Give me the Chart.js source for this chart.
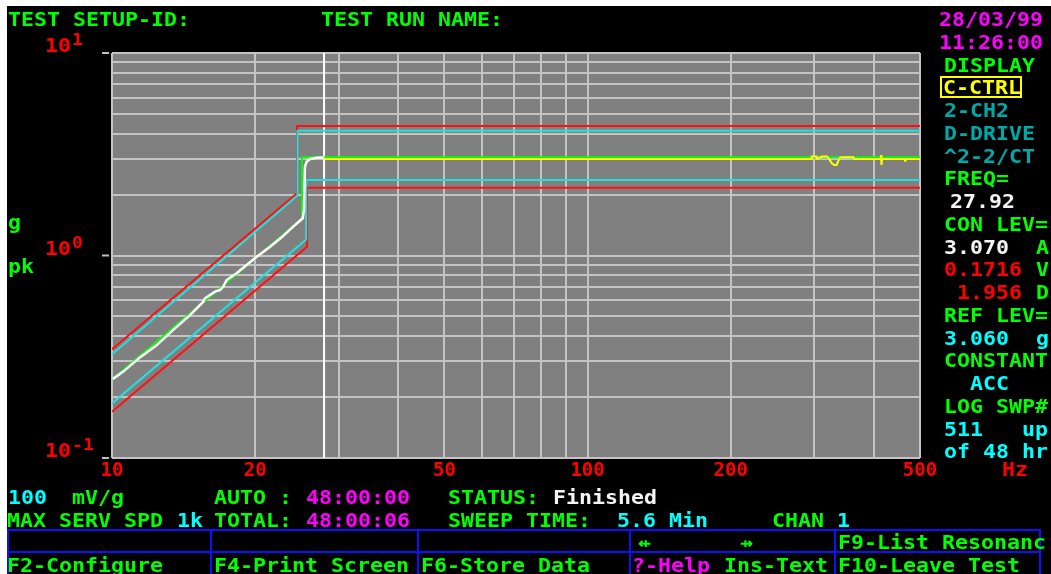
<!DOCTYPE html>
<html>
<head>
<meta charset="utf-8">
<script src="https://cdn.jsdelivr.net/npm/chart.js@4.4.0/dist/chart.umd.min.js"></script>
<style>
  body { margin: 0; background: #fff; }
  #wrap { position: relative; width: 1051px; height: 574px; overflow: hidden; }
  #c { position: absolute; left: 0; top: 0; }
  .t { position: absolute; font: bold 19px/19px 'DejaVu Sans Mono', monospace; white-space: pre;
       transform: scaleX(1.136); transform-origin: 0 0; }
  #box { position: absolute; left: 940px; top: 76px; width: 78px; height: 18px; border: 2px solid #ffff00; }
</style>
</head>
<body>
<div id="wrap">
  <canvas id="c" width="1051" height="574"></canvas>
  <div id="box"></div>
</div>
<script>
// axis grid and labels
const X_GRID = [10, 20, 30, 40, 50, 60, 70, 80, 90, 100, 200, 300, 400, 500];
const X_LABELS = [10, 20, 50, 100, 200, 500];
const Y_GRID = [0.1, 0.2, 0.3, 0.4, 0.5, 0.6, 0.7, 0.8, 0.9, 1, 2, 3, 4, 5, 6, 7, 8, 9, 10];
const Y_DECADES = [10, 1, 0.1];
const Y_EXPONENTS = ["1", "0", "-1"];

// abort (red) and alarm (cyan) limits
const ABORT_HI_HZ = [10, 24.5, 24.5, 500];
const ABORT_HI_G  = [0.344, 2.03, 4.36, 4.36];
const ALARM_HI_HZ = [10, 24.55, 24.55, 500];
const ALARM_HI_G  = [0.325, 1.98, 4.13, 4.13];
const ALARM_LO_HZ = [10, 25.6, 25.6, 500];
const ALARM_LO_G  = [0.186, 1.20, 2.36, 2.36];
const ABORT_LO_HZ = [10, 25.7, 25.7, 500];
const ABORT_LO_G  = [0.169, 1.105, 2.16, 2.16];

// reference profile (green)
const REF_HZ = [10, 25.1, 25.1, 500];
const REF_G  = [0.244, 1.52, 3.06, 3.06];

// control trace, current sweep (white)
const CTRL_HZ = [10.03, 10.56, 11.45, 12.42, 13.45, 14.59, 15.56, 15.69, 16.47, 16.87, 17.14, 17.42,
                 18.28, 19.19, 20.15, 21.5, 22.9, 23.3, 24.05, 25.18, 25.33, 25.45, 25.66, 26.08, 26.93, 27.92];
const CTRL_G  = [0.245, 0.267, 0.314, 0.361, 0.429, 0.508, 0.591, 0.615, 0.663, 0.675, 0.702, 0.757,
                 0.817, 0.898, 0.986, 1.105, 1.248, 1.296, 1.388, 1.527, 1.678, 2.745, 2.904, 2.996, 3.04, 3.05];

// control trace, previous sweep (yellow)
const PREV_HZ = [27.92, 295, 296, 303, 304, 311, 319, 322, 326, 330, 334, 337, 340, 362, 364,
                 413, 414, 415, 416, 464, 465, 466, 500];
const PREV_G  = [3.00, 3.00, 3.08, 3.08, 3.00, 3.08, 3.08, 3.00, 2.86, 2.80, 2.80, 2.95, 3.06, 3.06, 3.00,
                 3.00, 3.13, 2.80, 3.00, 3.00, 2.94, 3.00, 3.00];

const CURSOR_HZ = 27.92;

const GRN = "#00ff00", MAG = "#ff00ff", RED = "#ff0000", CYN = "#00ffff",
      TEAL = "#00a8a8", WHT = "#f4f4f4", YEL = "#ffff00";

const pts = (xs, ys) => xs.map((x, i) => ({ x: x, y: ys[i] }));
const rowY = k => 26 + 22.75 * k;

// screen texts: text, x, baseline, colour
const TEXTS = [
    ["TEST SETUP-ID:", 8, rowY(0), GRN],
    ["TEST RUN NAME:", 321, rowY(0), GRN],
    ["28/03/99", 939, rowY(0), MAG],
    ["11:26:00", 939, rowY(1), MAG],
    ["DISPLAY", 944, rowY(2), GRN],
    ["C-CTRL", 943, rowY(3), YEL],
    ["2-CH2", 944, rowY(4), TEAL],
    ["D-DRIVE", 944, rowY(5), TEAL],
    ["^2-2/CT", 944, rowY(6), TEAL],
    ["FREQ=", 944, rowY(7), GRN],
    ["27.92", 950, rowY(8), WHT],
    ["CON LEV=", 944, rowY(9), GRN],
    ["3.070", 944, rowY(10), WHT],
    ["A", 1036, rowY(10), GRN],
    ["0.1716", 944, rowY(11), RED],
    ["V", 1036, rowY(11), GRN],
    ["1.956", 957, rowY(12), RED],
    ["D", 1036, rowY(12), GRN],
    ["REF LEV=", 944, rowY(13), GRN],
    ["3.060", 944, rowY(14), CYN],
    ["g", 1036, rowY(14), CYN],
    ["CONSTANT", 944, rowY(15), GRN],
    ["ACC", 970, rowY(16), CYN],
    ["LOG SWP#", 944, rowY(17), GRN],
    ["511", 944, rowY(18), CYN],
    ["up", 1022, rowY(18), CYN],
    ["of 48 hr", 944, rowY(19), CYN],
    ["g", 8, 229, GRN],
    ["pk", 8, 273, GRN],
    ["Hz", 1002, 476, RED],
    ["100", 8, rowY(21), CYN],
    ["mV/g", 72, rowY(21), GRN],
    ["AUTO :", 214, rowY(21), GRN],
    ["48:00:00", 306, rowY(21), MAG],
    ["STATUS:", 448, rowY(21), GRN],
    ["Finished", 553, rowY(21), WHT],
    ["MAX SERV SPD", 7, rowY(22), GRN],
    ["1k", 177, rowY(22), CYN],
    ["TOTAL:", 214, rowY(22), GRN],
    ["48:00:06", 306, rowY(22), MAG],
    ["SWEEP TIME:", 448, rowY(22), GRN],
    ["5.6 Min", 617, rowY(22), CYN],
    ["CHAN", 772, rowY(22), GRN],
    ["1", 837, rowY(22), CYN],
    ["\u21F7", 638, rowY(23), GRN],
    ["\u21F8", 740, rowY(23), GRN],
    ["F9-List Resonanc", 838, rowY(23), GRN],
    ["F2-Configure", 7, rowY(24), GRN],
    ["F4-Print Screen", 214, rowY(24), GRN],
    ["F6-Store Data", 421, rowY(24), GRN],
    ["?-Help", 632, rowY(24), MAG],
    ["Ins-Text", 724, rowY(24), GRN],
    ["F10-Leave Test", 838, rowY(24), GRN]
];

const wrap = document.getElementById("wrap");
TEXTS.forEach(([s, x, y, col]) => {
    const el = document.createElement("div");
    el.className = "t";
    el.textContent = s;
    el.style.left = x + "px";
    el.style.top = (y - 16) + "px";
    el.style.color = col;
    wrap.appendChild(el);
});

const screenPlugin = {
    id: "screen",
    beforeDraw(chart) {
        const { ctx, chartArea: a } = chart;
        ctx.save();
        ctx.fillStyle = "#fff";
        ctx.fillRect(0, 0, chart.width, chart.height);
        ctx.fillStyle = "#000";
        ctx.fillRect(7, 6, chart.width - 7, chart.height - 6);
        ctx.fillStyle = "#808080";
        ctx.fillRect(a.left, a.top, a.right - a.left, a.bottom - a.top);
        ctx.restore();
    },
    afterDraw(chart) {
        const ctx = chart.ctx;
        const ys = chart.scales.y;
        ctx.save();
        // decade labels and tick dashes
        Y_DECADES.forEach((v, i) => {
            const py = ys.getPixelForValue(v);
            ctx.strokeStyle = "#c0c0c0";
            ctx.lineWidth = 2;
            ctx.beginPath();
            ctx.moveTo(102, py);
            ctx.lineTo(109, py);
            ctx.stroke();
            ctx.fillStyle = RED;
            ctx.save();
            ctx.translate(45, py - 1);
            ctx.scale(1.136, 1);
            ctx.font = "bold 19px 'DejaVu Sans Mono'";
            ctx.fillText("10", 0, 0);
            ctx.restore();
            ctx.save();
            ctx.translate(72, py - 8);
            ctx.scale(1.136, 1);
            ctx.font = "bold 16px 'DejaVu Sans Mono'";
            ctx.fillText(Y_EXPONENTS[i], 0, 0);
            ctx.restore();
        });
        // function key frame
        ctx.strokeStyle = "#1010ff";
        ctx.lineWidth = 2;
        ctx.beginPath();
        [530, 552].forEach(y => { ctx.moveTo(7, y); ctx.lineTo(1041, y); });
        [8, 211, 418, 630, 835, 1040].forEach(x => { ctx.moveTo(x, 530); ctx.lineTo(x, 574); });
        ctx.stroke();
        ctx.restore();
    }
};

const line = (label, xs, ys, color, width, order) => ({
    label: label, data: pts(xs, ys), borderColor: color, borderWidth: width,
    pointRadius: 0, fill: false, tension: 0, order: order
});

new Chart(document.getElementById("c").getContext("2d"), {
    type: "line",
    data: {
        datasets: [
            line("Control", CTRL_HZ, CTRL_G, "#ffffff", 2.5, 1),
            line("Previous sweep", PREV_HZ, PREV_G, "#ffff00", 2, 2),
            line("Reference", REF_HZ, REF_G, "#00ff00", 2, 3),
            line("Alarm high", ALARM_HI_HZ, ALARM_HI_G, "#20e0e0", 2, 4),
            line("Alarm low", ALARM_LO_HZ, ALARM_LO_G, "#20e0e0", 2, 4),
            line("Abort high", ABORT_HI_HZ, ABORT_HI_G, "#ff1010", 2, 5),
            line("Abort low", ABORT_LO_HZ, ABORT_LO_G, "#ff1010", 2, 5),
            line("Cursor", [CURSOR_HZ, CURSOR_HZ], [0.1, 10], "#ffffff", 2, 6)
        ]
    },
    options: {
        responsive: false,
        animation: false,
        devicePixelRatio: 1,
        layout: { padding: { left: 112, right: 131, top: 53, bottom: 0 } },
        plugins: { legend: { display: false }, tooltip: { enabled: false } },
        scales: {
            x: {
                type: "logarithmic",
                min: 10, max: 500,
                afterBuildTicks: s => { s.ticks = X_GRID.map(v => ({ value: v })); },
                afterFit: s => { s.height = 116; },
                grid: { color: "#c4c4c4", lineWidth: 2, drawTicks: false },
                border: { display: false },
                ticks: {
                    autoSkip: false, maxRotation: 0, padding: 4, color: RED,
                    font: { family: "'DejaVu Sans Mono'", weight: "bold", size: 19, lineHeight: 1 },
                    callback: v => X_LABELS.includes(v) ? String(v) : ""
                }
            },
            y: {
                type: "logarithmic",
                min: 0.1, max: 10,
                afterBuildTicks: s => { s.ticks = Y_GRID.map(v => ({ value: v })); },
                afterFit: s => { s.width = 0; },
                grid: { color: "#c4c4c4", lineWidth: 2, drawTicks: false },
                border: { display: false },
                ticks: { display: false }
            }
        }
    },
    plugins: [screenPlugin]
});
</script>
</body>
</html>
